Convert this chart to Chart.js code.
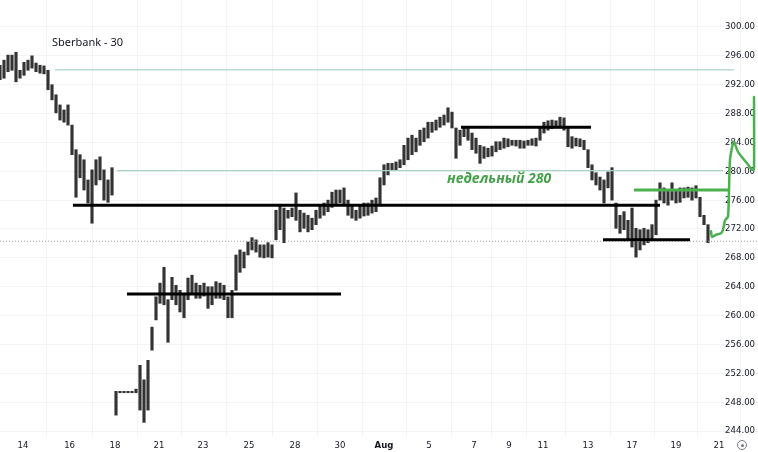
<!DOCTYPE html>
<html>
<head>
<meta charset="utf-8">
<script src="https://cdn.jsdelivr.net/npm/chart.js@4.4.1/dist/chart.umd.min.js"></script>
<style>
  html, body { margin: 0; padding: 0; background: #ffffff; }
  #wrap { position: relative; width: 758px; height: 452px; overflow: hidden; }
  #title { position: absolute; left: 52px; top: 34px; font: 11px "Noto Sans", sans-serif; color: #131722; }
  #gear { position: absolute; left: 737px; top: 440px; width: 8px; height: 8px; border: 1px solid #787b86; border-radius: 50%; }
  #gear::after { content: ""; position: absolute; left: 2.5px; top: 2.5px; width: 3px; height: 3px; border-radius: 50%; background: #787b86; }
</style>
</head>
<body>
<div id="wrap">
  <canvas id="priceChart" width="758" height="452"></canvas>
  <div id="title">Sberbank - 30</div>
  <div id="gear"></div>
</div>
<script>
// Sberbank, 30 min candles (one slot per few candles)
const highs = [
  294.7, 295.4, 296.1, 296.1, 296.5, 294.0, 295.1, 295.4, 296.0, 295.0,
  294.7, 294.6, 294.0, 292.0, 290.6, 289.2, 288.5, 289.2, 286.4, 283.0,
  282.3, 281.6, 278.8, 280.2, 281.6, 282.0, 280.2, 278.8, 280.5, 249.5,
  249.5, 249.5, 249.5, 249.5, 249.8, 253.1, 251.1, 253.8, 258.4, 262.6,
  264.5, 266.7, 262.2, 265.3, 264.2, 263.5, 262.9, 265.2, 265.6, 264.5,
  264.2, 264.5, 264.0, 264.0, 264.7, 264.5, 264.2, 262.6, 263.5, 268.4,
  269.1, 268.8, 270.2, 270.8, 270.5, 269.8, 269.8, 270.1, 269.8, 274.6,
  275.3, 274.9, 274.6, 274.9, 277.0, 274.6, 274.2, 273.9, 273.5, 274.6,
  275.3, 275.6, 276.0, 277.1, 277.4, 277.4, 277.7, 276.0, 275.3, 274.6,
  275.3, 275.6, 275.6, 276.0, 276.3, 279.1, 280.9, 281.1, 281.1, 281.3,
  281.6, 283.6, 284.6, 285.0, 284.6, 285.7, 286.0, 286.8, 286.8, 287.1,
  287.5, 287.8, 288.8, 288.2, 286.0, 285.7, 286.1, 286.0, 285.3, 284.6,
  283.6, 283.4, 283.2, 283.5, 284.1, 284.1, 284.6, 284.5, 284.3, 284.3,
  284.3, 284.2, 284.3, 284.5, 284.6, 286.1, 286.8, 287.0, 287.1, 287.0,
  287.5, 287.4, 286.0, 284.8, 284.6, 284.5, 284.3, 283.0, 280.9, 279.8,
  279.2, 278.8, 279.9, 280.5, 275.6, 273.9, 274.4, 273.2, 274.9, 272.1,
  271.9, 272.1, 271.9, 272.6, 276.0, 278.4, 277.7, 277.4, 278.4, 277.4,
  277.7, 277.7, 277.8, 277.7, 278.0, 276.4, 273.9, 272.6
];
const lows = [
  292.7, 292.9, 293.8, 294.0, 292.4, 292.9, 293.3, 294.0, 294.3, 293.8,
  293.6, 293.5, 291.3, 289.9, 288.1, 287.1, 286.8, 286.4, 282.3, 276.4,
  279.1, 277.4, 275.6, 272.8, 278.1, 278.8, 276.0, 275.7, 276.7, 246.2,
  249.3, 249.3, 249.3, 249.3, 249.3, 246.9, 245.2, 246.9, 255.2, 259.4,
  261.7, 261.5, 256.3, 262.2, 261.5, 260.5, 259.7, 262.2, 263.1, 262.4,
  262.4, 262.7, 261.0, 261.5, 262.4, 262.4, 262.2, 259.7, 259.7, 263.5,
  266.0, 266.6, 268.4, 269.1, 268.8, 268.1, 268.0, 268.1, 268.0, 270.5,
  271.9, 270.1, 273.5, 273.7, 273.2, 271.6, 272.1, 271.6, 271.9, 272.6,
  273.5, 273.9, 274.4, 275.0, 275.3, 275.6, 275.3, 273.9, 273.5, 273.2,
  273.5, 273.8, 273.9, 274.2, 274.4, 275.3, 278.1, 279.5, 280.2, 280.2,
  280.5, 280.9, 281.6, 282.3, 282.7, 283.6, 284.1, 284.6, 285.4, 285.7,
  286.1, 286.4, 286.8, 286.0, 281.8, 283.6, 284.8, 284.3, 283.0, 282.5,
  281.1, 281.8, 282.0, 282.1, 282.7, 283.0, 283.2, 283.4, 283.6, 283.5,
  283.2, 283.2, 283.6, 283.6, 283.5, 284.3, 285.3, 285.7, 285.9, 286.0,
  286.0, 285.7, 283.4, 283.2, 283.5, 283.4, 283.0, 280.5, 278.8, 278.1,
  277.4, 275.6, 277.7, 276.0, 272.1, 271.4, 271.9, 270.5, 269.5, 268.1,
  269.1, 269.8, 270.1, 270.5, 271.2, 276.0, 275.6, 275.3, 276.0, 275.6,
  275.7, 276.3, 276.4, 276.0, 276.3, 273.7, 272.6, 270.1
];

// date labels on the time axis and the candle slot they sit under
const tickLabels = ['14', '16', '18', '21', '23', '25', '28', '30', 'Aug', '5', '7', '9', '11', '13', '17', '19', '21'];
const tickSlots = [5.75, 17.4, 28.75, 39.75, 50.75, 62.25, 73.75, 85, 96, 107.25, 118.5, 127.25, 135.75, 147, 158, 169, 179.75];
const priceTicks = [244, 248, 252, 256, 260, 264, 268, 272, 276, 280, 284, 288, 292, 296, 300];

// drawn horizontal levels: price, first slot, last slot, style
const levelPrice = [294.05, 280.1, 275.3, 263.0, 286.1, 270.5, 277.4];
const levelFrom  = [13.75, 29.25, 18.25, 31.75, 115.25, 150.75, 158.5];
const levelTo    = [183.5, 180.75, 165, 85.25, 147.75, 172.5, 182];
const levelKind  = ['thin', 'thin', 'black', 'black', 'black', 'black', 'green'];

// hand drawn green arrow at the right edge
const arrowSlots  = [177.75, 178, 179, 180.25, 180.75, 181.25, 182, 182.25, 182.5, 183.25, 183.5, 184.5, 186.75, 188, 188.5, 188.5];
const arrowPrices = [271.7, 270.9, 271.2, 271.4, 271.9, 273.2, 273.7, 277.4, 281.6, 283.9, 284.1, 282.7, 281.1, 280.2, 280.4, 290.3];

const lastPrice = 270.3;
const noteText = 'недельный 280';
const noteSlot = 111.75;
const notePrice = 278.4;

const levelStyle = {
    thin:  { color: '#a8d5c6', width: 1.2 },
    black: { color: '#000000', width: 3 },
    green: { color: '#4caf50', width: 3 }
};

function buildDatasets() {
    const sets = [];

    levelPrice.forEach((p, i) => {
        const st = levelStyle[levelKind[i]];
        sets.push({
            type: 'line',
            data: [{ x: levelFrom[i], y: p }, { x: levelTo[i], y: p }],
            borderColor: st.color,
            borderWidth: st.width,
            pointRadius: 0,
            order: 1
        });
    });

    sets.push({
        type: 'line',
        data: arrowSlots.map((s, i) => ({ x: s, y: arrowPrices[i] })),
        borderColor: '#4caf50',
        borderWidth: 2.5,
        pointRadius: 0,
        tension: 0.2,
        borderCapStyle: 'round',
        borderJoinStyle: 'round',
        clip: false,
        order: 0
    });

    sets.push({
        type: 'line',
        data: [{ x: 0, y: lastPrice }, { x: 189.5, y: lastPrice }],
        borderColor: '#9598a1',
        borderWidth: 1,
        borderDash: [1, 2],
        pointRadius: 0,
        order: 3
    });

    sets.push({
        type: 'bar',
        data: highs.map((h, i) => ({ x: i, y: [lows[i], h] })),
        backgroundColor: '#333333',
        barThickness: 2.5,
        borderSkipped: false,
        order: 5
    });

    return sets;
}

const notePlugin = {
    id: 'note',
    afterDatasetsDraw(chart) {
        const { ctx, scales } = chart;
        ctx.save();
        ctx.font = 'italic bold 14px "Open Sans", "Noto Sans", sans-serif';
        ctx.fillStyle = '#43a047';
        ctx.textBaseline = 'alphabetic';
        ctx.fillText(noteText, scales.x.getPixelForValue(noteSlot), scales.y.getPixelForValue(notePrice));
        ctx.restore();
    }
};

const axisFont = '"Liberation Sans Narrow", "DejaVu Sans Condensed", sans-serif';

new Chart(document.getElementById('priceChart'), {
    type: 'bar',
    data: { datasets: buildDatasets() },
    options: {
        responsive: false,
        animation: false,
        layout: { padding: 0 },
        plugins: { legend: { display: false }, tooltip: { enabled: false } },
        scales: {
            x: {
                type: 'linear',
                min: 0,
                max: 189.5,
                offset: false,
                afterBuildTicks: (s) => { s.ticks = tickSlots.map(v => ({ value: v })); },
                afterFit: (s) => { s.height = 15; s.paddingLeft = 0; s.paddingRight = 0; },
                grid: { color: '#f2f3f5', drawTicks: false },
                border: { display: false },
                ticks: {
                    autoSkip: false,
                    maxRotation: 0,
                    padding: 3,
                    color: '#131722',
                    font: (c) => ({ family: axisFont, size: 9.5, weight: (c.tick && c.index === 8) ? 'bold' : 'normal' }),
                    callback: (v, i) => tickLabels[i]
                }
            },
            y: {
                type: 'linear',
                position: 'right',
                min: 243.17,
                max: 303.74,
                afterBuildTicks: (s) => { s.ticks = priceTicks.map(v => ({ value: v })); },
                afterFit: (s) => { s.width = 0; s.paddingTop = 0; s.paddingBottom = 0; },
                grid: { color: '#f2f3f5', drawTicks: false },
                border: { display: false },
                ticks: {
                    mirror: true,
                    padding: -3,
                    color: '#131722',
                    font: { family: axisFont, size: 9.5 },
                    callback: (v) => v.toFixed(2)
                }
            }
        }
    },
    plugins: [notePlugin]
});
</script>
</body>
</html>
